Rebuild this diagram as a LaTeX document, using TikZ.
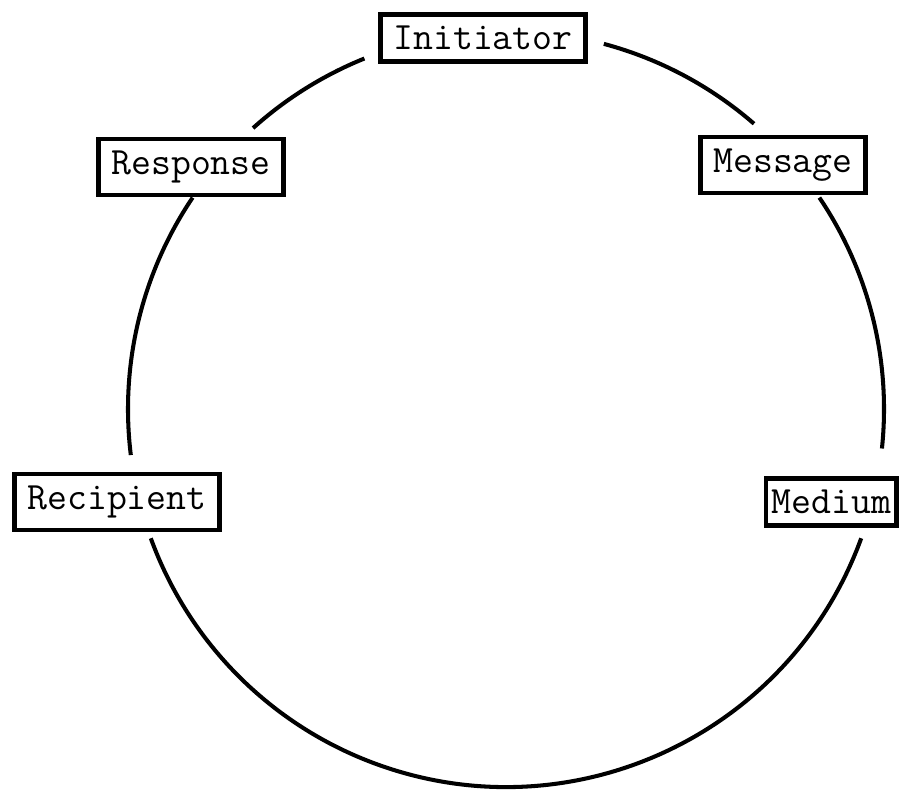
\documentclass[tikz,border=0pt]{standalone}
\begin{document}
\begin{tikzpicture}
[stage box/.style={draw,line width=1.3pt,font=\fontsize{11}{13}\selectfont\ttfamily,inner xsep=3.6pt,minimum height=0.47cm},
 loop line/.style={line width=1.15pt}]
\useasboundingbox (0,0) rectangle (9.01,-7.95);
\coordinate (ctr) at (5.06,-4.09);
\node[stage box] (initiator) at (4.83,-0.38) {Initiator};
\node[stage box] (message) at (7.83,-1.65) {Message};
\node[stage box,inner xsep=1.6pt,anchor=east] (medium) at (8.99,-5.02) {Medium};
\node[stage box] (recipient) at (1.17,-5.02) {Recipient};
\node[stage box] (response) at (1.91,-1.67) {Response};
% arcs of the loop, clockwise
\foreach \a/\b in {132/112,75/49,34/-6,-20/-160,187/146}
  \draw[loop line] ([shift={(\a:3.78)}]ctr) arc[start angle=\a,end angle=\b,radius=3.78];
\end{tikzpicture}
\end{document}
